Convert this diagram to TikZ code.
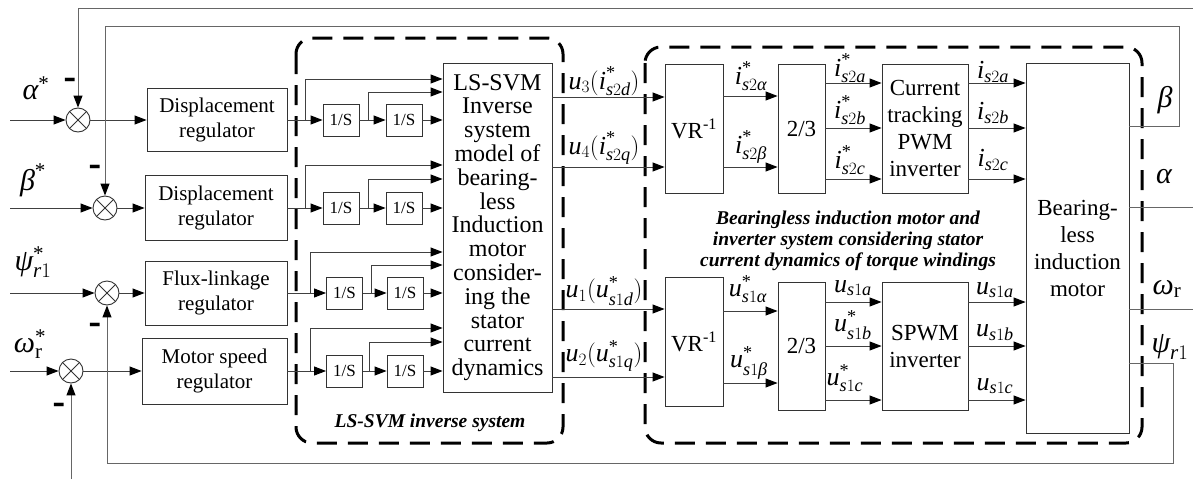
\documentclass[tikz,border=0pt]{standalone}
\usepackage{amsmath}
\usepackage{fontspec}
\setmainfont{Liberation Serif}
\usetikzlibrary{arrows.meta}
\newcommand\vi[1]{\textit{#1}}
\newcommand\st{\text{*}}
\newcommand\minussign{\scalebox{1}[2.6]{–}}
\tikzset{
  wire/.style={draw=black!75, line width=0.9pt},
  fb/.style={draw=black!60, line width=1pt},
  arr/.style={wire, -{Triangle[length=12pt,width=9pt,color=black]}},
  fbarr/.style={fb, -{Triangle[length=12pt,width=9pt,color=black]}},
  blk/.style={draw=black!80, line width=0.9pt, inner sep=1pt, align=center},
  sumj/.style={circle, draw=black!80, line width=0.9pt, minimum size=24pt, inner sep=0pt,
    path picture={\draw[black!80, line width=0.9pt]
      (path picture bounding box.north west) -- (path picture bounding box.south east)
      (path picture bounding box.north east) -- (path picture bounding box.south west);}},
  intg/.style={blk, minimum width=36pt, minimum height=32pt, font=\fontsize{17}{17}\selectfont},
  reg/.style={blk, font=\fontsize{21}{25}\selectfont},
  big/.style={blk, font=\fontsize{23}{27}\selectfont},
  lbl/.style={inner sep=0pt, font=\fontsize{26}{26}\selectfont},
  sig/.style={inner sep=0pt, font=\fontsize{30}{30}\selectfont},
  minus/.style={inner sep=0pt, font=\fontsize{19}{19}\bfseries},
  note/.style={inner sep=0pt, align=center, font=\fontsize{19.5}{21}\bfseries\itshape},
  group/.style={line width=3pt, dash pattern=on 20pt off 11pt, rounded corners=16pt}
}
\begin{document}
\begin{tikzpicture}[x=1pt, y=-1pt]
\useasboundingbox (0,0) rectangle (1193,479);

% dashed groups
\draw[group] (296,38) rectangle (563,443);
\draw[group] (645,47) rectangle (1142,443);
\node[note] (g1) at (430,423) {LS-SVM inverse system};
\node[note] (g2) at (848,241) {Bearingless induction motor and\\inverter system considering stator\\current dynamics of torque windings};

% summing junctions and references
\node[sumj] (sa) at (78,120) {};
\node[sumj] (sb) at (105,208) {};
\node[sumj] (sp) at (107,293) {};
\node[sumj] (sw) at (71,371) {};
\coordinate (ina) at (10,120);
\coordinate (inb) at (10,208);
\coordinate (inp) at (10,293);
\coordinate (inw) at (10,371);
\draw[arr] (ina) -- (sa);
\draw[arr] (inb) -- (sb);
\draw[arr] (inp) -- (sp);
\draw[arr] (inw) -- (sw);
\node[sig] (la) at (36,88) {$\vi{α}^{\st}$};
\node[sig] (lb) at (33,180) {$\vi{β}^{\st}$};
\node[sig] (lp) at (33,262) {$\vi{ψ}^{\st}_{\vi{r}1}$};
\node[sig] (lw) at (30,344) {$\vi{ω}^{\st}_{\text{r}}$};
\node[minus] (ma) at (70,85) {\minussign};
\node[minus] (mb) at (95,172) {\minussign};
\node[minus] (mp) at (95,330) {\minussign};
\node[minus] (mw) at (59,410) {\minussign};

% regulators
\node[reg, minimum width=140pt, minimum height=63pt] (reg1) at (217,120) {Displacement\\regulator};
\node[reg, minimum width=142pt, minimum height=65pt] (reg2) at (216,208) {Displacement\\regulator};
\node[reg, minimum width=142pt, minimum height=64pt] (reg3) at (216,293) {Flux-linkage\\regulator};
\node[reg, minimum width=145pt, minimum height=66pt] (reg4) at (214.5,371) {Motor speed\\regulator};
\draw[arr] (sa) -- (reg1);
\draw[arr] (sb) -- (reg2);
\draw[arr] (sp) -- (reg3);
\draw[arr] (sw) -- (reg4);

% inverse system model
\node[blk, minimum width=109pt, minimum height=329pt, font=\fontsize{24}{23.8}\selectfont] (inv) at (497.5,227.5)
  {LS-SVM\\Inverse\\system\\model of\\bearing-\\less\\Induction\\motor\\consider-\\ing the\\stator\\current\\dynamics};

% integrator chains
\foreach \r/\y/\bx/\cx/\ax/\bbx/\ya/\yb in
  {1/120/305/368/341/404/79/92, 2/208/305/368/341/404/165/179,
   3/293/310/371/344.5/405/252/265, 4/371/310/369/344.5/405/328/342} {
  \node[intg] (ia\r) at (\ax,\y) {1/S};
  \node[intg] (ib\r) at (\bbx,\y) {1/S};
  \coordinate (ba\r) at (\bx,\y);
  \coordinate (bb\r) at (\cx,\y);
  \draw[wire] (reg\r.east) -- (ba\r);
  \draw[arr] (ba\r) -- (ia\r);
  \draw[arr] (ia\r) -- (ib\r);
  \draw[arr] (ib\r) -- (ib\r -| inv.west);
  \draw[arr] (ba\r) |- (inv.west |- 0,\ya);
  \draw[arr] (bb\r) |- (inv.west |- 0,\yb);
}

% coordinate transforms and inverters
\node[big, minimum width=58pt, minimum height=129pt] (vra) at (694,128.5) {VR\textsuperscript{-1}};
\node[big, minimum width=58pt, minimum height=129pt] (vrb) at (694,341.5) {VR\textsuperscript{-1}};
\node[big, minimum width=47pt, minimum height=129pt] (ta) at (801.5,128.5) {2/3};
\node[big, minimum width=47pt, minimum height=128pt] (tb) at (801.5,346) {2/3};
\node[big, minimum width=86pt, minimum height=129pt] (pwm) at (925,128.5) {Current\\tracking\\PWM\\inverter};
\node[big, minimum width=86pt, minimum height=128pt] (spwm) at (925,346) {SPWM\\inverter};
\node[big, minimum width=103pt, minimum height=370pt] (motor) at (1077.5,248) {Bearing-\\less\\induction\\motor};

\foreach \y/\t in {97/vra, 167/vra, 309/vrb, 377/vrb}
  \draw[arr] (inv.east |- 0,\y) -- (\t.west |- 0,\y);
\foreach \y in {96, 167}
  \draw[arr] (vra.east |- 0,\y) -- (ta.west |- 0,\y);
\foreach \y in {311, 383}
  \draw[arr] (vrb.east |- 0,\y) -- (tb.west |- 0,\y);
\foreach \y in {83, 128, 179} {
  \draw[arr] (ta.east |- 0,\y) -- (pwm.west |- 0,\y);
  \draw[arr] (pwm.east |- 0,\y) -- (motor.west |- 0,\y);
}
\foreach \y in {302, 346, 400} {
  \draw[arr] (tb.east |- 0,\y) -- (spwm.west |- 0,\y);
  \draw[arr] (spwm.east |- 0,\y) -- (motor.west |- 0,\y);
}

% signal labels
\node[lbl] (lu3) at (604,81) {$\vi{u}_{3}(\vi{i}^{\st}_{\vi{s}2\vi{d}})$};
\node[lbl] (lu4) at (604,148) {$\vi{u}_{4}(\vi{i}^{\st}_{\vi{s}2\vi{q}})$};
\node[lbl] (lu1) at (604,291) {$\vi{u}_{1}(\vi{u}^{\st}_{\vi{s}1\vi{d}})$};
\node[lbl] (lu2) at (604,356) {$\vi{u}_{2}(\vi{u}^{\st}_{\vi{s}1\vi{q}})$};
\node[lbl] (li1) at (751,76) {$\vi{i}^{\st}_{\vi{s}2\vi{α}}$};
\node[lbl] (li2) at (751,147) {$\vi{i}^{\st}_{\vi{s}2\vi{β}}$};
\node[lbl] (li3) at (850,68) {$\vi{i}^{\st}_{\vi{s}2\vi{a}}$};
\node[lbl] (li4) at (850,110) {$\vi{i}^{\st}_{\vi{s}2\vi{b}}$};
\node[lbl] (li5) at (850,160) {$\vi{i}^{\st}_{\vi{s}2\vi{c}}$};
\node[lbl] (li6) at (993,72) {$\vi{i}_{\vi{s}2\vi{a}}$};
\node[lbl] (li7) at (993,113) {$\vi{i}_{\vi{s}2\vi{b}}$};
\node[lbl] (li8) at (993,160) {$\vi{i}_{\vi{s}2\vi{c}}$};
\node[lbl] (lv1) at (748,289) {$\vi{u}^{\st}_{\vi{s}1\vi{α}}$};
\node[lbl] (lv2) at (749,363) {$\vi{u}^{\st}_{\vi{s}1\vi{β}}$};
\node[lbl] (lv3) at (853,288) {$\vi{u}_{\vi{s}1\vi{a}}$};
\node[lbl] (lv4) at (853,325) {$\vi{u}^{\st}_{\vi{s}1\vi{b}}$};
\node[lbl] (lv5) at (845,378) {$\vi{u}^{\st}_{\vi{s}1\vi{c}}$};
\node[lbl] (lv6) at (995,290) {$\vi{u}_{\vi{s}1\vi{a}}$};
\node[lbl] (lv7) at (995,333) {$\vi{u}_{\vi{s}1\vi{b}}$};
\node[lbl] (lv8) at (995,386) {$\vi{u}_{\vi{s}1\vi{c}}$};

% motor outputs
\node[sig] (ob) at (1165,100) {$\vi{β}$};
\node[sig] (oa) at (1164,177) {$\vi{α}$};
\node[sig] (ow) at (1167,289) {$\vi{ω}_{\text{r}}$};
\node[sig] (op) at (1170,347) {$\vi{ψ}_{\vi{r}1}$};

% feedback paths
\coordinate (ea) at (1193,8);
\coordinate (eal) at (1193,207);
\coordinate (cb1) at (1179,126);
\coordinate (cb2) at (1179,26);
\coordinate (ew) at (1193,309);
\coordinate (bw) at (71,479);
\coordinate (cp1) at (1173,363);
\coordinate (cp2) at (1173,463);
\draw[fbarr] (ea) -| (sa);
\draw[fb] (motor.east |- eal) -- (eal);
\draw[fbarr] (motor.east |- cb1) -- (cb1) -- (cb2) -| (sb);
\draw[fb] (motor.east |- ew) -- (ew);
\draw[fbarr] (bw) -- (sw);
\draw[fbarr] (motor.east |- cp1) -- (cp1) -- (cp2) -| (sp);
\end{tikzpicture}
\end{document}
